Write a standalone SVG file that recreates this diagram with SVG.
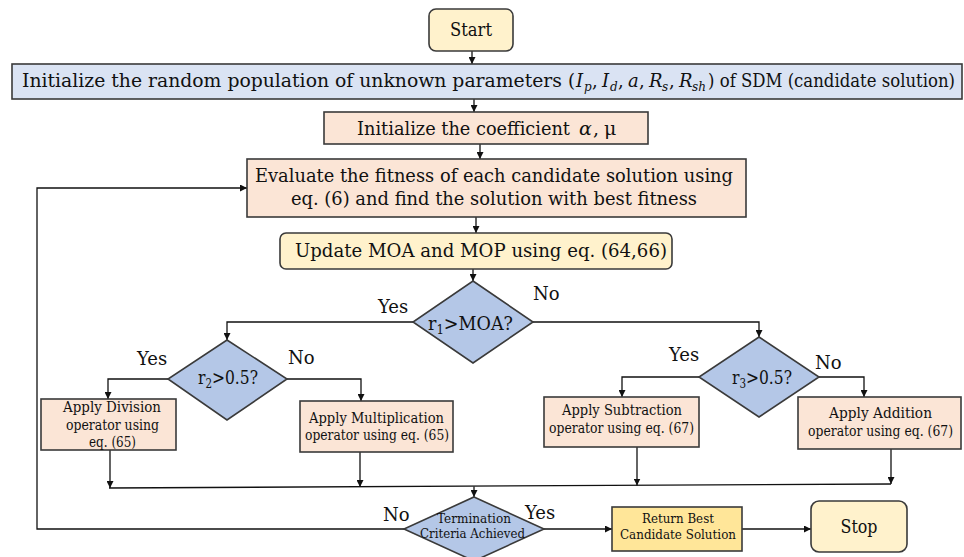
<svg xmlns="http://www.w3.org/2000/svg" width="964" height="557" viewBox="0 0 964 557">
<defs>
<marker id="ah" markerWidth="7" markerHeight="7" refX="7" refY="3.5" orient="auto" markerUnits="userSpaceOnUse">
<path d="M0,0 L7,3.5 L0,7 z" fill="#111"/>
</marker>
<style>
text{font-family:'DejaVu Serif',serif;fill:#111;}
.big{font-size:19px;}
.bl{font-size:18px;}
.mid{font-size:18px;}
.sm{font-size:14px;}
.xs{font-size:13px;}
.sub{font-size:12px;font-style:italic;}
.it{font-style:italic;}
.box{stroke:#3a3a3a;stroke-width:1.6;}
.yel{fill:#fff2cc;}
.blue{fill:#dae3f3;}
.peach{fill:#fbe5d6;}
.dia{fill:#b4c7e7;}
.gold{fill:#ffe699;}
.ln{fill:none;stroke:#111;stroke-width:1.3;}
</style>
</defs>

<g id="connectors">
<line class="ln" x1="472" y1="51" x2="472" y2="64" marker-end="url(#ah)"/>
<line class="ln" x1="474" y1="99" x2="474" y2="112" marker-end="url(#ah)"/>
<line class="ln" x1="480" y1="144" x2="480" y2="159" marker-end="url(#ah)"/>
<line class="ln" x1="476" y1="217" x2="476" y2="233" marker-end="url(#ah)"/>
<line class="ln" x1="473" y1="269" x2="473" y2="281" marker-end="url(#ah)"/>
<polyline class="ln" points="413,322 227,322 227,340" marker-end="url(#ah)"/>
<polyline class="ln" points="533,322 759,322 759,337" marker-end="url(#ah)"/>
<polyline class="ln" points="168,379 108,379 108,399" marker-end="url(#ah)"/>
<polyline class="ln" points="287,379 361,379 361,401" marker-end="url(#ah)"/>
<polyline class="ln" points="699,377 622,377 622,397" marker-end="url(#ah)"/>
<polyline class="ln" points="819,377 864,377 864,397" marker-end="url(#ah)"/>
<line class="ln" x1="110" y1="450" x2="110" y2="488" marker-end="url(#ah)"/>
<line class="ln" x1="360" y1="452" x2="360" y2="487" marker-end="url(#ah)"/>
<line class="ln" x1="637" y1="447" x2="637" y2="485.5" marker-end="url(#ah)"/>
<line class="ln" x1="891" y1="449" x2="891" y2="484" marker-end="url(#ah)"/>
<line class="ln" x1="109" y1="488" x2="891" y2="484"/>
<line class="ln" x1="474" y1="486.5" x2="474" y2="497" marker-end="url(#ah)"/>
<polyline class="ln" points="404,529 37,529 37,188 247,188" marker-end="url(#ah)"/>
<line class="ln" x1="544" y1="529" x2="612" y2="529" marker-end="url(#ah)"/>
<line class="ln" x1="742" y1="529" x2="811" y2="529" marker-end="url(#ah)"/>
</g>

<g id="start">
<rect class="box yel" x="429" y="9" width="84" height="42" rx="7"/>
<text class="big" x="471" y="36" text-anchor="middle" textLength="42" lengthAdjust="spacingAndGlyphs">Start</text>
</g>

<g id="init-population">
<rect class="box blue" x="12" y="64" width="950" height="35"/>
<text class="bl" x="22" y="87" textLength="540" lengthAdjust="spacingAndGlyphs">Initialize the random population of unknown parameters</text>
<text class="bl" x="568" y="87">(</text>
<text class="bl it" x="576" y="87">I</text><text class="sub" x="584" y="91">p</text><text class="bl" x="592" y="87">,</text>
<text class="bl it" x="602" y="87">I</text><text class="sub" x="610" y="91">d</text><text class="bl" x="618" y="87">,</text>
<text class="bl it" x="628" y="87">a</text><text class="bl" x="639" y="87">,</text>
<text class="bl it" x="649" y="87">R</text><text class="sub" x="662" y="91">s</text><text class="bl" x="669" y="87">,</text>
<text class="bl it" x="679" y="87">R</text><text class="sub" x="692" y="91">sh</text>
<text class="bl" x="708" y="87" textLength="247" lengthAdjust="spacingAndGlyphs">) of SDM (candidate solution)</text>
</g>

<g id="init-coeff">
<rect class="box peach" x="324" y="112" width="324" height="32"/>
<text class="big" x="357" y="135" textLength="213" lengthAdjust="spacingAndGlyphs">Initialize the coefficient</text>
<text class="big it" x="579" y="135">α</text>
<text class="big" x="593" y="135">,</text>
<text class="big" x="604" y="135">μ</text>
</g>

<g id="evaluate">
<rect class="box peach" x="247" y="159" width="499" height="58"/>
<text class="big" x="255" y="182" textLength="478" lengthAdjust="spacingAndGlyphs">Evaluate the fitness of each candidate solution using</text>
<text class="big" x="291" y="205" textLength="406" lengthAdjust="spacingAndGlyphs">eq. (6) and find the solution with best fitness</text>
</g>

<g id="update">
<rect class="box yel" x="280" y="233" width="392" height="36" rx="6"/>
<text class="big" x="295" y="257" textLength="372" lengthAdjust="spacingAndGlyphs">Update MOA and MOP using eq. (64,66)</text>
</g>

<g id="r1">
<polygon class="box dia" points="473,281 533,322 473,363 413,322"/>
<text class="mid" x="428" y="330" textLength="85" lengthAdjust="spacingAndGlyphs">r<tspan font-size="12" dy="4">1</tspan><tspan dy="-4">&gt;MOA?</tspan></text>
<text class="mid" x="378" y="313">Yes</text>
<text class="mid" x="533" y="300">No</text>
</g>

<g id="r2">
<polygon class="box dia" points="227,340 287,379 227,420 168,379"/>
<text class="mid" x="198" y="384" textLength="60" lengthAdjust="spacingAndGlyphs">r<tspan font-size="12" dy="4">2</tspan><tspan dy="-4">&gt;0.5?</tspan></text>
<text class="mid" x="137" y="365">Yes</text>
<text class="mid" x="288" y="364">No</text>
</g>

<g id="r3">
<polygon class="box dia" points="759,337 819,377 759,417 699,377"/>
<text class="mid" x="732" y="384" textLength="60" lengthAdjust="spacingAndGlyphs">r<tspan font-size="12" dy="4">3</tspan><tspan dy="-4">&gt;0.5?</tspan></text>
<text class="mid" x="669" y="361">Yes</text>
<text class="mid" x="815" y="369">No</text>
</g>

<g id="division">
<rect class="box peach" x="41" y="399" width="135" height="51"/>
<text class="sm" x="63" y="412" textLength="98" lengthAdjust="spacingAndGlyphs">Apply Division</text>
<text class="sm" x="66" y="430" textLength="93" lengthAdjust="spacingAndGlyphs">operator using</text>
<text class="sm" x="89" y="447" textLength="47" lengthAdjust="spacingAndGlyphs">eq. (65)</text>
</g>

<g id="multiplication">
<rect class="box peach" x="300" y="401" width="153" height="51"/>
<text class="sm" x="309" y="423" textLength="135" lengthAdjust="spacingAndGlyphs">Apply Multiplication</text>
<text class="sm" x="305" y="440" textLength="144" lengthAdjust="spacingAndGlyphs">operator using eq. (65)</text>
</g>

<g id="subtraction">
<rect class="box peach" x="544" y="397" width="155" height="50"/>
<text class="sm" x="562" y="415" textLength="120" lengthAdjust="spacingAndGlyphs">Apply Subtraction</text>
<text class="sm" x="549" y="433" textLength="145" lengthAdjust="spacingAndGlyphs">operator using eq. (67)</text>
</g>

<g id="addition">
<rect class="box peach" x="798" y="397" width="163" height="52"/>
<text class="sm" x="829" y="418" textLength="103" lengthAdjust="spacingAndGlyphs">Apply Addition</text>
<text class="sm" x="808" y="436" textLength="145" lengthAdjust="spacingAndGlyphs">operator using eq. (67)</text>
</g>

<g id="termination">
<polygon class="box dia" points="474,497 544,529 474,561 404,529"/>
<text class="xs" x="437" y="523" textLength="74" lengthAdjust="spacingAndGlyphs">Termination</text>
<text class="xs" x="420" y="538" textLength="105" lengthAdjust="spacingAndGlyphs">Criteria Achieved</text>
<text class="mid" x="383" y="521">No</text>
<text class="mid" x="525" y="519">Yes</text>
</g>

<g id="return">
<rect class="box gold" x="612" y="507" width="130" height="44"/>
<text class="xs" x="642" y="523" textLength="72" lengthAdjust="spacingAndGlyphs">Return Best</text>
<text class="xs" x="620" y="539" textLength="116" lengthAdjust="spacingAndGlyphs">Candidate Solution</text>
</g>

<g id="stop">
<rect class="box yel" x="811" y="501" width="96" height="51" rx="8"/>
<text class="big" x="859" y="533" text-anchor="middle" textLength="37" lengthAdjust="spacingAndGlyphs">Stop</text>
</g>
</svg>
